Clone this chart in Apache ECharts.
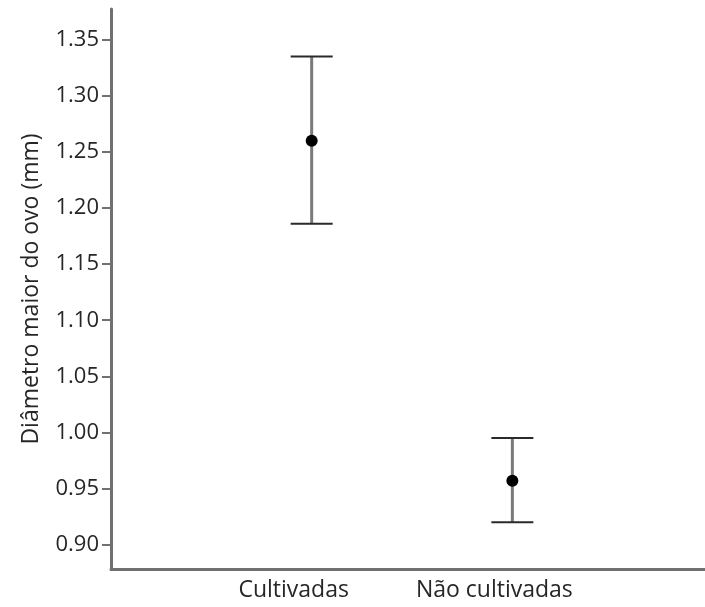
<!DOCTYPE html>
<html>
<head>
<meta charset="utf-8">
<script src="https://cdn.jsdelivr.net/npm/echarts@6/dist/echarts.min.js"></script>
<style>
  html, body { margin: 0; padding: 0; background: #fff; }
  #chart { width: 705px; height: 607px; }
</style>
</head>
<body>
<div id="chart"></div>
<script>
// Mean egg diameter with confidence interval, per group
const categories = ['Cultivadas', 'Não cultivadas'];
const means = [1.26, 0.957];
const lower = [1.186, 0.920];
const upper = [1.335, 0.995];
const yTicks = [0.90, 0.95, 1.00, 1.05, 1.10, 1.15, 1.20, 1.25, 1.30, 1.35];

const FONT = 'Open Sans';
const TEXT = '#262626';
const AXIS = '#707070';

const errData = categories.map((c, i) => [i + 1, lower[i], upper[i]]);
const meanData = categories.map((c, i) => [i + 1, means[i]]);

const chart = echarts.init(document.getElementById('chart'));
chart.setOption({
  animation: false,
  grid: { left: 111, right: 0, top: 9, bottom: 38 },
  xAxis: {
    type: 'value',
    min: 0,
    max: 2.96,
    splitLine: { show: false },
    axisLine: { show: true, lineStyle: { color: AXIS, width: 3 } },
    axisTick: { show: false },
    axisLabel: {
      customValues: [1, 2],
      formatter: v => categories[Math.round(v) - 1] || '',
      color: TEXT,
      fontFamily: FONT,
      fontSize: 23,
      margin: 10,
      padding: [0, 36, 0, 0]
    }
  },
  yAxis: {
    type: 'value',
    min: 0.8783,
    max: 1.3774,
    name: 'Diâmetro maior do ovo (mm)',
    nameLocation: 'middle',
    nameGap: 68,
    nameRotate: 90,
    nameTextStyle: { color: TEXT, fontFamily: FONT, fontSize: 23 },
    splitLine: { show: false },
    axisLine: { show: true, lineStyle: { color: AXIS, width: 3 } },
    axisTick: { show: true, customValues: yTicks, length: 9, lineStyle: { color: AXIS, width: 2 } },
    axisLabel: {
      customValues: yTicks,
      formatter: v => v.toFixed(2),
      color: TEXT,
      fontFamily: FONT,
      fontSize: 22,
      margin: 12
    }
  },
  series: [
    {
      type: 'custom',
      data: errData,
      renderItem: (params, api) => {
        const x = api.value(0);
        const lo = api.coord([x, api.value(1)]);
        const hi = api.coord([x, api.value(2)]);
        const half = 21;
        return {
          type: 'group',
          children: [
            { type: 'line', shape: { x1: lo[0], y1: lo[1], x2: hi[0], y2: hi[1] },
              style: { stroke: '#7a7a7a', lineWidth: 3 } },
            { type: 'line', shape: { x1: hi[0] - half, y1: hi[1], x2: hi[0] + half, y2: hi[1] },
              style: { stroke: '#2a2a2a', lineWidth: 2 } },
            { type: 'line', shape: { x1: lo[0] - half, y1: lo[1], x2: lo[0] + half, y2: lo[1] },
              style: { stroke: '#2a2a2a', lineWidth: 2 } }
          ]
        };
      },
      z: 2
    },
    {
      type: 'scatter',
      data: meanData,
      symbol: 'circle',
      symbolSize: 12,
      itemStyle: { color: '#000', opacity: 1 },
      z: 3
    }
  ]
});
</script>
</body>
</html>
